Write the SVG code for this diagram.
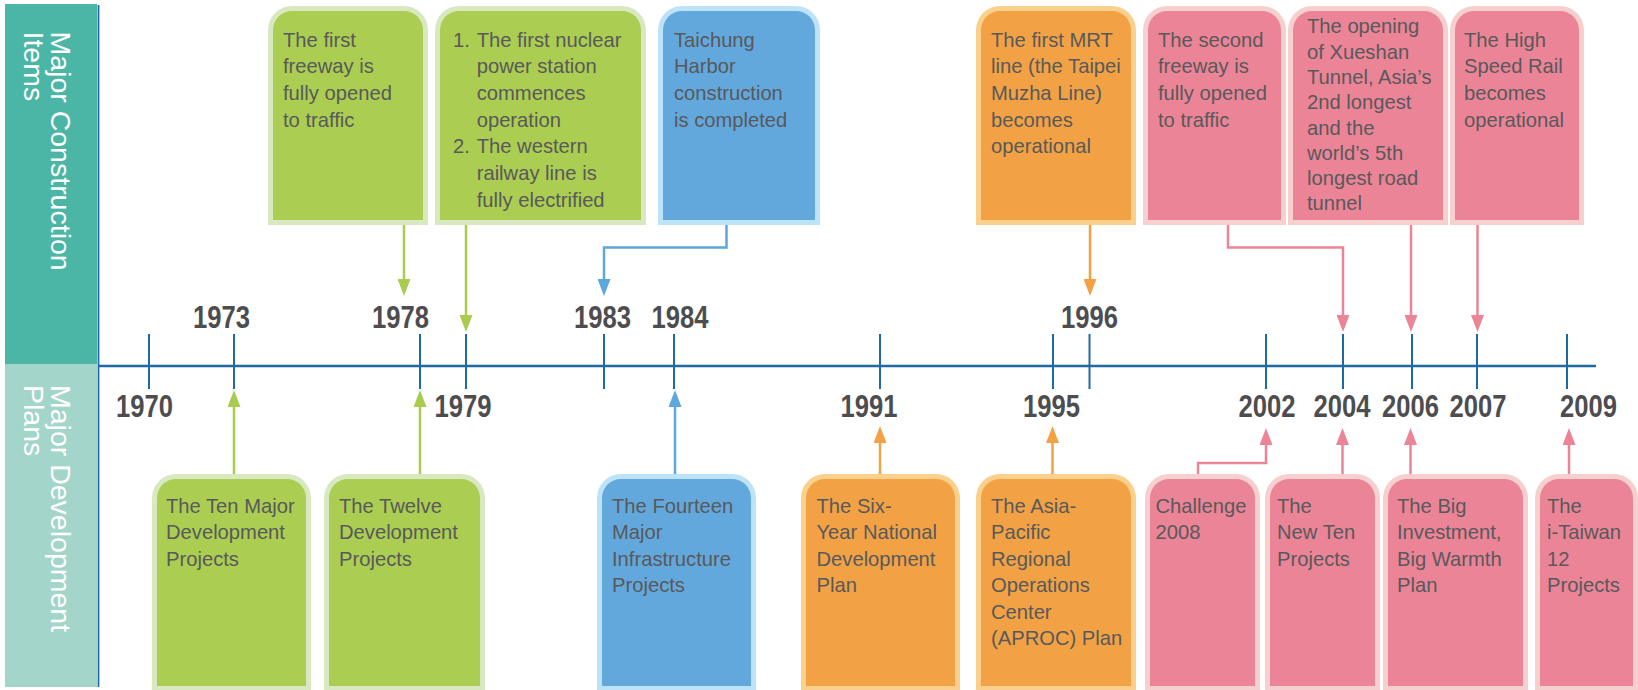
<svg xmlns="http://www.w3.org/2000/svg" width="1638" height="690" viewBox="0 0 1638 690">
<style>
.t{font-family:"Liberation Sans",Arial,sans-serif;font-size:20.2px;fill:#58595b}
.yr{font-family:"Liberation Sans Narrow","Liberation Sans",Arial,sans-serif;font-weight:bold;font-size:31px;fill:#4d4d4f;text-anchor:middle}
.side{font-family:"Liberation Sans",Arial,sans-serif;font-size:28.5px;fill:#ffffff}
.tick{stroke:#1f69a6;stroke-width:2}
.c{fill:none;stroke-width:2.5}
.g{stroke:#a9cc4f}.b{stroke:#5ea7dc}.o{stroke:#f2a245}.p{stroke:#ec8497}
.go{fill:#d8e9c2}.gi{fill:#abcd52}
.bo{fill:#bde3f8}.bi{fill:#63a8dc}
.oo{fill:#fbd08c}.oi{fill:#f2a245}
.po{fill:#f6d0cf}.pi{fill:#ec8497}
</style>
<defs>
<marker id="ag" viewBox="0 0 17 13" markerWidth="17" markerHeight="13" refX="7" refY="6.5" orient="auto" markerUnits="userSpaceOnUse"><path d="M0,0 L17,6.5 L0,13 Z" fill="#a9cc4f"/></marker>
<marker id="ab" viewBox="0 0 17 13" markerWidth="17" markerHeight="13" refX="7" refY="6.5" orient="auto" markerUnits="userSpaceOnUse"><path d="M0,0 L17,6.5 L0,13 Z" fill="#5ea7dc"/></marker>
<marker id="ao" viewBox="0 0 17 13" markerWidth="17" markerHeight="13" refX="7" refY="6.5" orient="auto" markerUnits="userSpaceOnUse"><path d="M0,0 L17,6.5 L0,13 Z" fill="#f2a245"/></marker>
<marker id="ap" viewBox="0 0 17 13" markerWidth="17" markerHeight="13" refX="7" refY="6.5" orient="auto" markerUnits="userSpaceOnUse"><path d="M0,0 L17,6.5 L0,13 Z" fill="#ec8497"/></marker>
</defs>
<rect width="1638" height="690" fill="#ffffff"/>

<g id="side-bars">
<rect x="5" y="4" width="92" height="360" fill="#4bb6a5"/>
<rect x="5" y="364" width="92" height="323" fill="#a3d5cb"/>
<line x1="98.5" y1="5" x2="98.5" y2="687" stroke="#1f69a6" stroke-width="1.8"/>
<text class="side" transform="translate(51,31.5) rotate(90)">Major Construction</text>
<text class="side" transform="translate(23.5,31.5) rotate(90)">Items</text>
<text class="side" transform="translate(51,385) rotate(90)">Major Development</text>
<text class="side" transform="translate(23.5,385) rotate(90)">Plans</text>
</g>

<g id="timeline">
<line x1="98" y1="366" x2="1596" y2="366" stroke="#1f69a6" stroke-width="2.5"/>
<line class="tick" x1="149" y1="334" x2="149" y2="389"/>
<line class="tick" x1="234" y1="334" x2="234" y2="389"/>
<line class="tick" x1="420" y1="334" x2="420" y2="389"/>
<line class="tick" x1="466" y1="334" x2="466" y2="389"/>
<line class="tick" x1="604" y1="334" x2="604" y2="389"/>
<line class="tick" x1="674" y1="334" x2="674" y2="389"/>
<line class="tick" x1="880" y1="334" x2="880" y2="389"/>
<line class="tick" x1="1053" y1="334" x2="1053" y2="389"/>
<line class="tick" x1="1089.5" y1="334" x2="1089.5" y2="389"/>
<line class="tick" x1="1266" y1="334" x2="1266" y2="389"/>
<line class="tick" x1="1343" y1="334" x2="1343" y2="389"/>
<line class="tick" x1="1412" y1="334" x2="1412" y2="389"/>
<line class="tick" x1="1477" y1="334" x2="1477" y2="389"/>
<line class="tick" x1="1567" y1="334" x2="1567" y2="389"/>
<text class="yr" x="221.5" y="328" textLength="57" lengthAdjust="spacingAndGlyphs">1973</text>
<text class="yr" x="400.5" y="328" textLength="57" lengthAdjust="spacingAndGlyphs">1978</text>
<text class="yr" x="602.5" y="328" textLength="57" lengthAdjust="spacingAndGlyphs">1983</text>
<text class="yr" x="680" y="328" textLength="57" lengthAdjust="spacingAndGlyphs">1984</text>
<text class="yr" x="1089.5" y="328" textLength="57" lengthAdjust="spacingAndGlyphs">1996</text>
<text class="yr" x="144.5" y="417" textLength="57" lengthAdjust="spacingAndGlyphs">1970</text>
<text class="yr" x="463" y="417" textLength="57" lengthAdjust="spacingAndGlyphs">1979</text>
<text class="yr" x="869" y="417" textLength="57" lengthAdjust="spacingAndGlyphs">1991</text>
<text class="yr" x="1051.5" y="417" textLength="57" lengthAdjust="spacingAndGlyphs">1995</text>
<text class="yr" x="1267" y="417" textLength="57" lengthAdjust="spacingAndGlyphs">2002</text>
<text class="yr" x="1342" y="417" textLength="57" lengthAdjust="spacingAndGlyphs">2004</text>
<text class="yr" x="1410.5" y="417" textLength="57" lengthAdjust="spacingAndGlyphs">2006</text>
<text class="yr" x="1478" y="417" textLength="57" lengthAdjust="spacingAndGlyphs">2007</text>
<text class="yr" x="1588.5" y="417" textLength="57" lengthAdjust="spacingAndGlyphs">2009</text>
</g>

<g id="connectors">
<path class="c g" d="M404,225 V286" marker-end="url(#ag)"/>
<path class="c g" d="M466,225 V322" marker-end="url(#ag)"/>
<path class="c b" d="M726.5,225 V247.5 H604 V286" marker-end="url(#ab)"/>
<path class="c o" d="M1090,225 V286" marker-end="url(#ao)"/>
<path class="c p" d="M1228,225 V247.5 H1343 V322" marker-end="url(#ap)"/>
<path class="c p" d="M1411,225 V322" marker-end="url(#ap)"/>
<path class="c p" d="M1477.5,225 V322" marker-end="url(#ap)"/>
<path class="c g" d="M234,474 V400" marker-end="url(#ag)"/>
<path class="c g" d="M420,474 V400" marker-end="url(#ag)"/>
<path class="c b" d="M675,474 V400" marker-end="url(#ab)"/>
<path class="c o" d="M880,474 V436" marker-end="url(#ao)"/>
<path class="c o" d="M1052.5,474 V436" marker-end="url(#ao)"/>
<path class="c p" d="M1198,476 V463 H1266 V438" marker-end="url(#ap)"/>
<path class="c p" d="M1342.5,476 V438" marker-end="url(#ap)"/>
<path class="c p" d="M1410.5,476 V438" marker-end="url(#ap)"/>
<path class="c p" d="M1569,476 V438" marker-end="url(#ap)"/>
</g>

<g id="item-1978">
<path class="go" d="M268,225 V30 A24,24 0 0 1 292,6 H404 A24,24 0 0 1 428,30 V225 Z"/>
<path class="gi" d="M273,220 V30 A19,19 0 0 1 292,11 H404 A19,19 0 0 1 423,30 V220 Z"/>
<text class="t"><tspan x="283" y="46.7">The first</tspan><tspan x="283" y="73.3">freeway is</tspan><tspan x="283" y="100">fully opened</tspan><tspan x="283" y="126.7">to traffic</tspan></text>
</g>

<g id="item-1979">
<path class="go" d="M435,225 V30 A24,24 0 0 1 459,6 H622 A24,24 0 0 1 646,30 V225 Z"/>
<path class="gi" d="M440,220 V30 A19,19 0 0 1 459,11 H622 A19,19 0 0 1 641,30 V220 Z"/>
<text class="t"><tspan x="453" y="46.7">1.</tspan><tspan x="476.7" y="46.7">The first nuclear</tspan><tspan x="476.7" y="73.3">power station</tspan><tspan x="476.7" y="100">commences</tspan><tspan x="476.7" y="126.7">operation</tspan><tspan x="453" y="153.3">2.</tspan><tspan x="476.7" y="153.3">The western</tspan><tspan x="476.7" y="180">railway line is</tspan><tspan x="476.7" y="206.7">fully electrified</tspan></text>
</g>

<g id="item-1983">
<path class="bo" d="M658,225 V30 A24,24 0 0 1 682,6 H796 A24,24 0 0 1 820,30 V225 Z"/>
<path class="bi" d="M663,220 V30 A19,19 0 0 1 682,11 H796 A19,19 0 0 1 815,30 V220 Z"/>
<text class="t"><tspan x="674" y="46.7">Taichung</tspan><tspan x="674" y="73.3">Harbor</tspan><tspan x="674" y="100">construction</tspan><tspan x="674" y="126.7">is completed</tspan></text>
</g>

<g id="item-1996">
<path class="oo" d="M976,225 V30 A24,24 0 0 1 1000,6 H1112 A24,24 0 0 1 1136,30 V225 Z"/>
<path class="oi" d="M981,220 V30 A19,19 0 0 1 1000,11 H1112 A19,19 0 0 1 1131,30 V220 Z"/>
<text class="t"><tspan x="991" y="46.7">The first MRT</tspan><tspan x="991" y="73.3">line (the Taipei</tspan><tspan x="991" y="100">Muzha Line)</tspan><tspan x="991" y="126.7">becomes</tspan><tspan x="991" y="153.3">operational</tspan></text>
</g>

<g id="item-2004">
<path class="po" d="M1143,225 V30 A24,24 0 0 1 1167,6 H1262 A24,24 0 0 1 1286,30 V225 Z"/>
<path class="pi" d="M1148,220 V30 A19,19 0 0 1 1167,11 H1262 A19,19 0 0 1 1281,30 V220 Z"/>
<text class="t"><tspan x="1158" y="46.7">The second</tspan><tspan x="1158" y="73.3">freeway is</tspan><tspan x="1158" y="100">fully opened</tspan><tspan x="1158" y="126.7">to traffic</tspan></text>
</g>

<g id="item-2006">
<path class="po" d="M1288,225 V30 A24,24 0 0 1 1312,6 H1424 A24,24 0 0 1 1448,30 V225 Z"/>
<path class="pi" d="M1293,220 V30 A19,19 0 0 1 1312,11 H1424 A19,19 0 0 1 1443,30 V220 Z"/>
<text class="t"><tspan x="1307" y="33.3">The opening</tspan><tspan x="1307" y="58.6">of Xueshan</tspan><tspan x="1307" y="83.9">Tunnel, Asia’s</tspan><tspan x="1307" y="109.2">2nd longest</tspan><tspan x="1307" y="134.5">and the</tspan><tspan x="1307" y="159.8">world’s 5th</tspan><tspan x="1307" y="185.1">longest road</tspan><tspan x="1307" y="210.4">tunnel</tspan></text>
</g>

<g id="item-2007">
<path class="po" d="M1450,225 V30 A24,24 0 0 1 1474,6 H1560 A24,24 0 0 1 1584,30 V225 Z"/>
<path class="pi" d="M1455,220 V30 A19,19 0 0 1 1474,11 H1560 A19,19 0 0 1 1579,30 V220 Z"/>
<text class="t"><tspan x="1464" y="46.7">The High</tspan><tspan x="1464" y="73.3">Speed Rail</tspan><tspan x="1464" y="100">becomes</tspan><tspan x="1464" y="126.7">operational</tspan></text>
</g>

<g id="plan-1973">
<path class="go" d="M152,691 V498 A24,24 0 0 1 176,474 H287 A24,24 0 0 1 311,498 V691 Z"/>
<path class="gi" d="M157,686 V498 A19,19 0 0 1 176,479 H287 A19,19 0 0 1 306,498 V686 Z"/>
<text class="t"><tspan x="166" y="512.5">The Ten Major</tspan><tspan x="166" y="539">Development</tspan><tspan x="166" y="565.5">Projects</tspan></text>
</g>

<g id="plan-1978">
<path class="go" d="M324,691 V498 A24,24 0 0 1 348,474 H461 A24,24 0 0 1 485,498 V691 Z"/>
<path class="gi" d="M329,686 V498 A19,19 0 0 1 348,479 H461 A19,19 0 0 1 480,498 V686 Z"/>
<text class="t"><tspan x="339" y="512.5">The Twelve</tspan><tspan x="339" y="539">Development</tspan><tspan x="339" y="565.5">Projects</tspan></text>
</g>

<g id="plan-1984">
<path class="bo" d="M597,691 V498 A24,24 0 0 1 621,474 H732 A24,24 0 0 1 756,498 V691 Z"/>
<path class="bi" d="M602,686 V498 A19,19 0 0 1 621,479 H732 A19,19 0 0 1 751,498 V686 Z"/>
<text class="t"><tspan x="612" y="512.5">The Fourteen</tspan><tspan x="612" y="539">Major</tspan><tspan x="612" y="565.5">Infrastructure</tspan><tspan x="612" y="592">Projects</tspan></text>
</g>

<g id="plan-1991">
<path class="oo" d="M801,691 V498 A24,24 0 0 1 825,474 H936 A24,24 0 0 1 960,498 V691 Z"/>
<path class="oi" d="M806,686 V498 A19,19 0 0 1 825,479 H936 A19,19 0 0 1 955,498 V686 Z"/>
<text class="t"><tspan x="816.5" y="512.5">The Six-</tspan><tspan x="816.5" y="539">Year National</tspan><tspan x="816.5" y="565.5">Development</tspan><tspan x="816.5" y="592">Plan</tspan></text>
</g>

<g id="plan-1995">
<path class="oo" d="M976,691 V498 A24,24 0 0 1 1000,474 H1112 A24,24 0 0 1 1136,498 V691 Z"/>
<path class="oi" d="M981,686 V498 A19,19 0 0 1 1000,479 H1112 A19,19 0 0 1 1131,498 V686 Z"/>
<text class="t"><tspan x="991" y="512.5">The Asia-</tspan><tspan x="991" y="539">Pacific</tspan><tspan x="991" y="565.5">Regional</tspan><tspan x="991" y="592">Operations</tspan><tspan x="991" y="618.5">Center</tspan><tspan x="991" y="645">(APROC) Plan</tspan></text>
</g>

<g id="plan-2002">
<path class="po" d="M1145,691 V498 A24,24 0 0 1 1169,474 H1236 A24,24 0 0 1 1260,498 V691 Z"/>
<path class="pi" d="M1150,686 V498 A19,19 0 0 1 1169,479 H1236 A19,19 0 0 1 1255,498 V686 Z"/>
<text class="t"><tspan x="1155.5" y="512.5">Challenge</tspan><tspan x="1155.5" y="539">2008</tspan></text>
</g>

<g id="plan-2004">
<path class="po" d="M1265,691 V498 A24,24 0 0 1 1289,474 H1356 A24,24 0 0 1 1380,498 V691 Z"/>
<path class="pi" d="M1270,686 V498 A19,19 0 0 1 1289,479 H1356 A19,19 0 0 1 1375,498 V686 Z"/>
<text class="t"><tspan x="1277" y="512.5">The</tspan><tspan x="1277" y="539">New Ten</tspan><tspan x="1277" y="565.5">Projects</tspan></text>
</g>

<g id="plan-2006">
<path class="po" d="M1383,691 V498 A24,24 0 0 1 1407,474 H1504 A24,24 0 0 1 1528,498 V691 Z"/>
<path class="pi" d="M1388,686 V498 A19,19 0 0 1 1407,479 H1504 A19,19 0 0 1 1523,498 V686 Z"/>
<text class="t"><tspan x="1397" y="512.5">The Big</tspan><tspan x="1397" y="539">Investment,</tspan><tspan x="1397" y="565.5">Big Warmth</tspan><tspan x="1397" y="592">Plan</tspan></text>
</g>

<g id="plan-2009">
<path class="po" d="M1535,691 V498 A24,24 0 0 1 1559,474 H1614 A24,24 0 0 1 1638,498 V691 Z"/>
<path class="pi" d="M1540,686 V498 A19,19 0 0 1 1559,479 H1614 A19,19 0 0 1 1633,498 V686 Z"/>
<text class="t"><tspan x="1547" y="512.5">The</tspan><tspan x="1547" y="539">i-Taiwan</tspan><tspan x="1547" y="565.5">12</tspan><tspan x="1547" y="592">Projects</tspan></text>
</g>
</svg>
